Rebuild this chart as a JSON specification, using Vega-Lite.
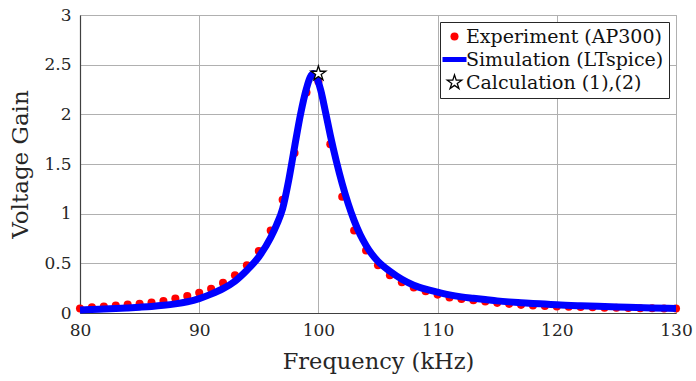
{
  "$schema": "https://vega.github.io/schema/vega-lite/v6.json",
  "width": 596,
  "height": 298,
  "autosize": {"type": "none"},
  "padding": {"left": 80, "top": 15, "right": 20, "bottom": 68},
  "background": "white",
  "config": {
    "font": "DejaVu Serif",
    "view": {"stroke": "#a6a6a6", "strokeWidth": 1},
    "axis": {
      "labelFont": "DejaVu Serif",
      "titleFont": "DejaVu Serif",
      "labelColor": "#262626",
      "titleColor": "#262626",
      "titleFontWeight": "normal",
      "gridColor": "#b0b0b0",
      "gridOpacity": 1,
      "gridWidth": 1,
      "domainColor": "#404040",
      "domainWidth": 1.2,
      "ticks": false,
      "labelFlush": false,
      "labelOverlap": false
    }
  },
  "datasets": {
    "exp": [
      {"series": "Experiment (AP300)", "f": 80, "g": 0.045},
      {"series": "Experiment (AP300)", "f": 81, "g": 0.057},
      {"series": "Experiment (AP300)", "f": 82, "g": 0.066},
      {"series": "Experiment (AP300)", "f": 83, "g": 0.075},
      {"series": "Experiment (AP300)", "f": 84, "g": 0.085},
      {"series": "Experiment (AP300)", "f": 85, "g": 0.094},
      {"series": "Experiment (AP300)", "f": 86, "g": 0.106},
      {"series": "Experiment (AP300)", "f": 87, "g": 0.12},
      {"series": "Experiment (AP300)", "f": 88, "g": 0.145},
      {"series": "Experiment (AP300)", "f": 89, "g": 0.172},
      {"series": "Experiment (AP300)", "f": 90, "g": 0.203},
      {"series": "Experiment (AP300)", "f": 91, "g": 0.245},
      {"series": "Experiment (AP300)", "f": 92, "g": 0.303},
      {"series": "Experiment (AP300)", "f": 93, "g": 0.38},
      {"series": "Experiment (AP300)", "f": 94, "g": 0.48},
      {"series": "Experiment (AP300)", "f": 95, "g": 0.625},
      {"series": "Experiment (AP300)", "f": 96, "g": 0.83},
      {"series": "Experiment (AP300)", "f": 97, "g": 1.14},
      {"series": "Experiment (AP300)", "f": 98, "g": 1.61},
      {"series": "Experiment (AP300)", "f": 99, "g": 2.22},
      {"series": "Experiment (AP300)", "f": 100, "g": 2.33},
      {"series": "Experiment (AP300)", "f": 101, "g": 1.70},
      {"series": "Experiment (AP300)", "f": 102, "g": 1.17},
      {"series": "Experiment (AP300)", "f": 103, "g": 0.83},
      {"series": "Experiment (AP300)", "f": 104, "g": 0.63},
      {"series": "Experiment (AP300)", "f": 105, "g": 0.48},
      {"series": "Experiment (AP300)", "f": 106, "g": 0.38},
      {"series": "Experiment (AP300)", "f": 107, "g": 0.31},
      {"series": "Experiment (AP300)", "f": 108, "g": 0.256},
      {"series": "Experiment (AP300)", "f": 109, "g": 0.219},
      {"series": "Experiment (AP300)", "f": 110, "g": 0.185},
      {"series": "Experiment (AP300)", "f": 111, "g": 0.157},
      {"series": "Experiment (AP300)", "f": 112, "g": 0.141},
      {"series": "Experiment (AP300)", "f": 113, "g": 0.128},
      {"series": "Experiment (AP300)", "f": 114, "g": 0.115},
      {"series": "Experiment (AP300)", "f": 115, "g": 0.102},
      {"series": "Experiment (AP300)", "f": 116, "g": 0.092},
      {"series": "Experiment (AP300)", "f": 117, "g": 0.082},
      {"series": "Experiment (AP300)", "f": 118, "g": 0.075},
      {"series": "Experiment (AP300)", "f": 119, "g": 0.07},
      {"series": "Experiment (AP300)", "f": 120, "g": 0.066},
      {"series": "Experiment (AP300)", "f": 121, "g": 0.063},
      {"series": "Experiment (AP300)", "f": 122, "g": 0.06},
      {"series": "Experiment (AP300)", "f": 123, "g": 0.057},
      {"series": "Experiment (AP300)", "f": 124, "g": 0.054},
      {"series": "Experiment (AP300)", "f": 125, "g": 0.052},
      {"series": "Experiment (AP300)", "f": 126, "g": 0.05},
      {"series": "Experiment (AP300)", "f": 127, "g": 0.048},
      {"series": "Experiment (AP300)", "f": 128, "g": 0.047},
      {"series": "Experiment (AP300)", "f": 129, "g": 0.046},
      {"series": "Experiment (AP300)", "f": 130, "g": 0.045}
    ],
    "sim": [
      {"series": "Simulation (LTspice)", "f": 80, "g": 0.031},
      {"series": "Simulation (LTspice)", "f": 81, "g": 0.035},
      {"series": "Simulation (LTspice)", "f": 82, "g": 0.04},
      {"series": "Simulation (LTspice)", "f": 83, "g": 0.045},
      {"series": "Simulation (LTspice)", "f": 84, "g": 0.051},
      {"series": "Simulation (LTspice)", "f": 85, "g": 0.058},
      {"series": "Simulation (LTspice)", "f": 86, "g": 0.066},
      {"series": "Simulation (LTspice)", "f": 87, "g": 0.077},
      {"series": "Simulation (LTspice)", "f": 88, "g": 0.092},
      {"series": "Simulation (LTspice)", "f": 89, "g": 0.113},
      {"series": "Simulation (LTspice)", "f": 90, "g": 0.145},
      {"series": "Simulation (LTspice)", "f": 91, "g": 0.19},
      {"series": "Simulation (LTspice)", "f": 92, "g": 0.245},
      {"series": "Simulation (LTspice)", "f": 93, "g": 0.32},
      {"series": "Simulation (LTspice)", "f": 94, "g": 0.43},
      {"series": "Simulation (LTspice)", "f": 95, "g": 0.565},
      {"series": "Simulation (LTspice)", "f": 96, "g": 0.76},
      {"series": "Simulation (LTspice)", "f": 96.5, "g": 0.89},
      {"series": "Simulation (LTspice)", "f": 97, "g": 1.05},
      {"series": "Simulation (LTspice)", "f": 97.5, "g": 1.33},
      {"series": "Simulation (LTspice)", "f": 98, "g": 1.67},
      {"series": "Simulation (LTspice)", "f": 98.5, "g": 2.0},
      {"series": "Simulation (LTspice)", "f": 99, "g": 2.26},
      {"series": "Simulation (LTspice)", "f": 99.3, "g": 2.37},
      {"series": "Simulation (LTspice)", "f": 99.6, "g": 2.41},
      {"series": "Simulation (LTspice)", "f": 99.9, "g": 2.36},
      {"series": "Simulation (LTspice)", "f": 100.2, "g": 2.24},
      {"series": "Simulation (LTspice)", "f": 100.6, "g": 2.02},
      {"series": "Simulation (LTspice)", "f": 101, "g": 1.79},
      {"series": "Simulation (LTspice)", "f": 101.5, "g": 1.53},
      {"series": "Simulation (LTspice)", "f": 102, "g": 1.3},
      {"series": "Simulation (LTspice)", "f": 102.5, "g": 1.1},
      {"series": "Simulation (LTspice)", "f": 103, "g": 0.93},
      {"series": "Simulation (LTspice)", "f": 103.5, "g": 0.79},
      {"series": "Simulation (LTspice)", "f": 104, "g": 0.68},
      {"series": "Simulation (LTspice)", "f": 104.5, "g": 0.59},
      {"series": "Simulation (LTspice)", "f": 105, "g": 0.52},
      {"series": "Simulation (LTspice)", "f": 106, "g": 0.42},
      {"series": "Simulation (LTspice)", "f": 107, "g": 0.34},
      {"series": "Simulation (LTspice)", "f": 108, "g": 0.28},
      {"series": "Simulation (LTspice)", "f": 109, "g": 0.24},
      {"series": "Simulation (LTspice)", "f": 110, "g": 0.21},
      {"series": "Simulation (LTspice)", "f": 111, "g": 0.182},
      {"series": "Simulation (LTspice)", "f": 112, "g": 0.162},
      {"series": "Simulation (LTspice)", "f": 113, "g": 0.148},
      {"series": "Simulation (LTspice)", "f": 114, "g": 0.135},
      {"series": "Simulation (LTspice)", "f": 115, "g": 0.122},
      {"series": "Simulation (LTspice)", "f": 116, "g": 0.112},
      {"series": "Simulation (LTspice)", "f": 117, "g": 0.104},
      {"series": "Simulation (LTspice)", "f": 118, "g": 0.096},
      {"series": "Simulation (LTspice)", "f": 119, "g": 0.09},
      {"series": "Simulation (LTspice)", "f": 120, "g": 0.083},
      {"series": "Simulation (LTspice)", "f": 122, "g": 0.073},
      {"series": "Simulation (LTspice)", "f": 124, "g": 0.065},
      {"series": "Simulation (LTspice)", "f": 126, "g": 0.058},
      {"series": "Simulation (LTspice)", "f": 128, "g": 0.051},
      {"series": "Simulation (LTspice)", "f": 130, "g": 0.046}
    ],
    "calc": [
      {"series": "Calculation (1),(2)", "f": 100, "g": 2.41}
    ]
  },
  "layer": [
    {
      "data": {"name": "exp"},
      "mark": {"type": "point", "filled": true, "shape": "circle", "size": 65, "opacity": 1, "strokeWidth": 0},
      "encoding": {
        "x": {"field": "f", "type": "quantitative", "scale": {"domain": [80, 130], "nice": false, "zero": false},
              "axis": {"title": "Frequency (kHz)", "values": [80, 90, 100, 110, 120, 130], "labelFontSize": 17, "titleFontSize": 22.5, "labelPadding": 9, "titlePadding": 12}},
        "y": {"field": "g", "type": "quantitative", "scale": {"domain": [0, 3], "nice": false},
              "axis": {"title": "Voltage Gain", "values": [0, 0.5, 1, 1.5, 2, 2.5, 3], "format": "~g", "labelFontSize": 17, "titleFontSize": 23, "labelPadding": 9, "titlePadding": 11}},
        "fill": {
          "field": "series", "type": "nominal",
          "scale": {"domain": ["Experiment (AP300)", "Simulation (LTspice)", "Calculation (1),(2)"], "range": ["#ff0000", "#0000ff", "#ffffff"]},
          "legend": {
            "title": null,
            "orient": "top-right",
            "offset": 7,
            "padding": 5,
            "strokeColor": "#262626",
            "fillColor": "white",
            "labelFont": "DejaVu Serif",
            "labelFontSize": 19,
            "labelColor": "#111111",
            "labelLimit": 400,
            "labelOffset": 2,
            "symbolSize": 576,
            "rowPadding": 2,
            "symbolOpacity": 1,
            "encode": {
              "symbols": {
                "update": {
                  "shape": {"signal": "datum.value === 'Simulation (LTspice)' ? 'stroke' : (datum.value === 'Calculation (1),(2)' ? 'M0,-1L0.224,-0.307L0.951,-0.309L0.361,0.117L0.588,0.809L0,0.38L-0.588,0.809L-0.361,0.117L-0.951,-0.309L-0.224,-0.307Z' : 'circle')"},
                  "size": {"signal": "datum.value === 'Simulation (LTspice)' ? 576 : (datum.value === 'Calculation (1),(2)' ? 230 : 65)"},
                  "strokeWidth": {"signal": "datum.value === 'Simulation (LTspice)' ? 5 : (datum.value === 'Calculation (1),(2)' ? 1.3 : 0)"},
                  "opacity": {"value": 1},
                  "fillOpacity": {"value": 1},
                  "strokeOpacity": {"value": 1}
                }
              }
            }
          }
        },
        "stroke": {
          "field": "series", "type": "nominal",
          "scale": {"domain": ["Experiment (AP300)", "Simulation (LTspice)", "Calculation (1),(2)"], "range": ["#ff0000", "#0000ff", "#000000"]},
          "legend": {"title": null}
        }
      }
    },
    {
      "data": {"name": "sim"},
      "mark": {"type": "line", "strokeWidth": 7, "interpolate": "monotone"},
      "encoding": {
        "x": {"field": "f", "type": "quantitative"},
        "y": {"field": "g", "type": "quantitative"},
        "stroke": {"field": "series", "type": "nominal", "legend": {"title": null}}
      }
    },
    {
      "data": {"name": "calc"},
      "mark": {"type": "point", "shape": "M0,-1L0.224,-0.307L0.951,-0.309L0.361,0.117L0.588,0.809L0,0.38L-0.588,0.809L-0.361,0.117L-0.951,-0.309L-0.224,-0.307Z", "size": 240, "filled": true, "strokeWidth": 1.3, "opacity": 1},
      "encoding": {
        "x": {"field": "f", "type": "quantitative"},
        "y": {"field": "g", "type": "quantitative"},
        "fill": {"field": "series", "type": "nominal", "legend": {"title": null}},
        "stroke": {"field": "series", "type": "nominal", "legend": {"title": null}}
      }
    }
  ]
}
